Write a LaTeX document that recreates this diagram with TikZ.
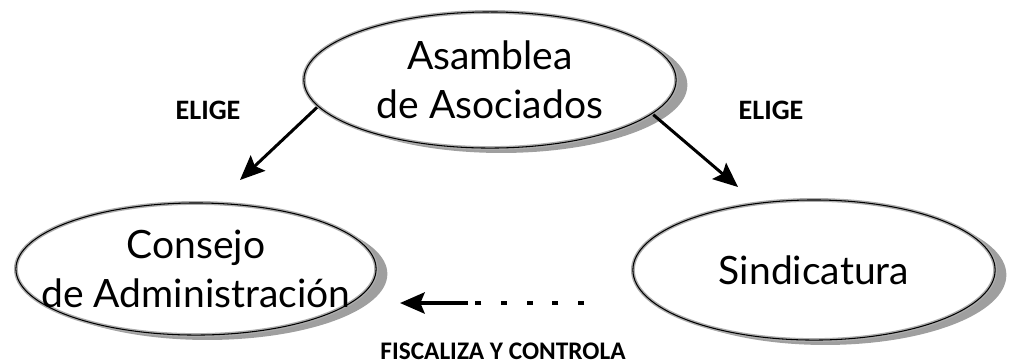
\documentclass[tikz,border=0pt]{standalone}
\usepackage{fontspec}
\setmainfont{Lato}
\newfontfamily\labelfont{Carlito}
\usetikzlibrary{arrows.meta}
\usetikzlibrary{shapes.geometric}
\usetikzlibrary{shadows}

\begin{document}
\begin{tikzpicture}[x=0.01cm,y=-0.01cm]
	\useasboundingbox (0,0) rectangle (1016,363);
	\begin{scope}[every node/.style={ellipse, draw=gray!65, line width=1.1pt, fill=white, inner xsep=-1cm, inner ysep=-0.5cm, align=center,
	              font=\fontsize{11.1}{13.8}\selectfont,
	              general shadow={fill=gray!75, shadow xshift=3.2pt, shadow yshift=-1.4pt},
	              postaction={draw=black, line width=0.3pt}}]
		\node[minimum width=3.72cm, minimum height=1.36cm] (asam) at (490,80) {Asamblea\\de Asociados};
		\node[minimum width=3.6cm, minimum height=1.32cm] (cons) at (196,269) {Consejo\\de Administración};
		\node[minimum width=3.62cm, minimum height=1.4cm] (sind) at (814,270) {Sindicatura};
	\end{scope}

	\coordinate (consTip) at (240,180);
	\coordinate (sindTip) at (738,187);
	\coordinate (fiscStart) at (584,303);
	\coordinate (fiscMid) at (468,303);
	\coordinate (fiscTip) at (400,303);

	\begin{scope}[>={Stealth[length=7pt,width=6pt,inset=1.2pt]},
	              every node/.style={font=\labelfont\bfseries}]
		\draw[->, line width=0.85pt] (asam.189) -- (consTip);
		\draw[->, line width=0.85pt] (asam.348) -- (sindTip);
		\draw[line width=1.1pt, dash pattern=on 1.7pt off 5.6pt] (fiscStart) -- (fiscMid);
		\draw[->, line width=1.1pt] (fiscMid) -- (fiscTip);
		\node[font=\labelfont\bfseries\fontsize{8}{9}\selectfont] (eligeA) at (208,110) {ELIGE};
		\node[font=\labelfont\bfseries\fontsize{8}{9}\selectfont] (eligeB) at (771,110) {ELIGE};
		\node[font=\labelfont\bfseries\fontsize{7.2}{9}\selectfont] (fisc) at (503,351) {FISCALIZA Y CONTROLA};
	\end{scope}
\end{tikzpicture}
\end{document}
